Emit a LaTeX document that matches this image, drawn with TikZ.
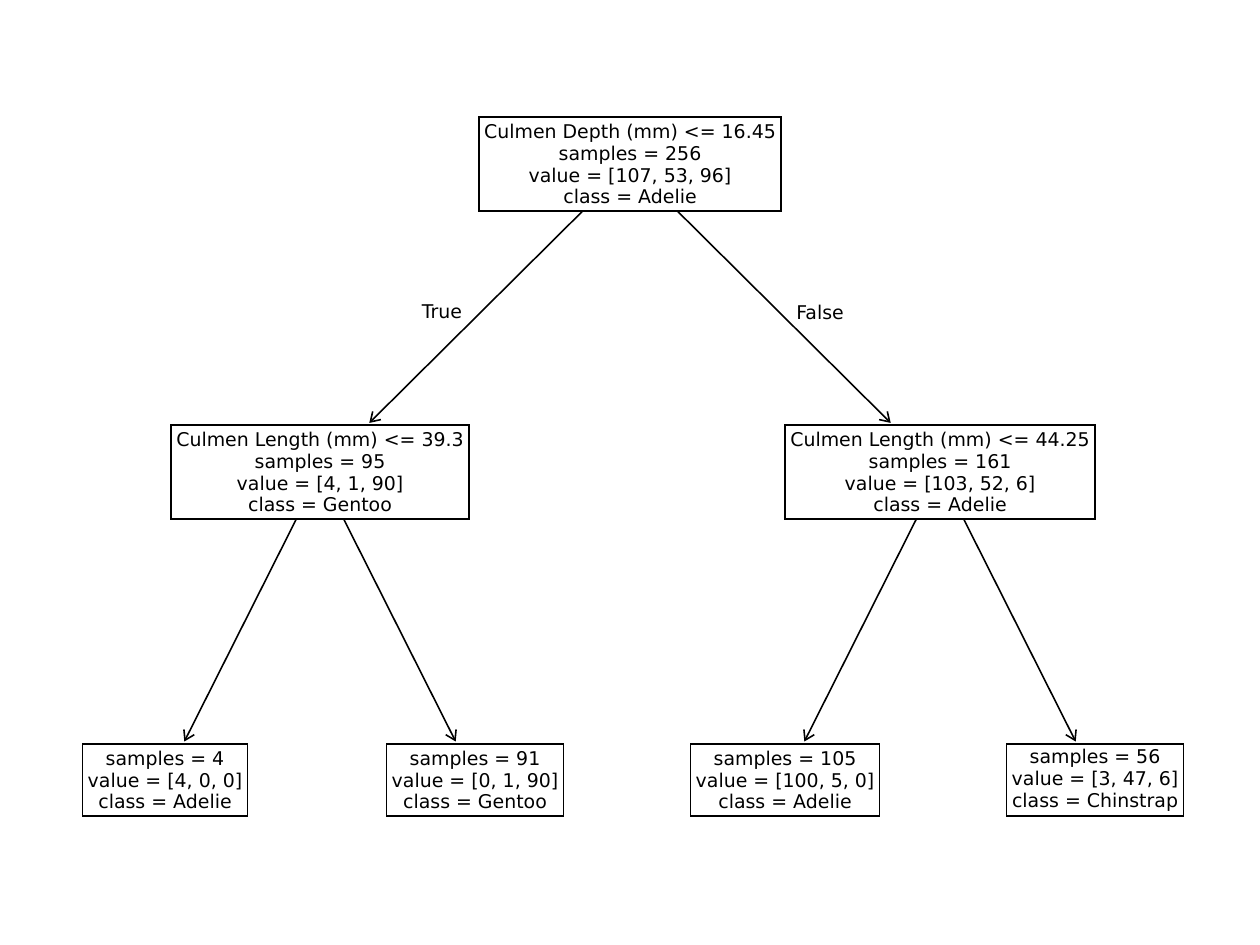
\documentclass[tikz,border=0pt]{standalone}
\usepackage{fontspec}
\setmainfont{DejaVu Sans}
\usetikzlibrary{arrows.meta}
\tikzset{
  treebox/.style={draw, line width=0.85pt, align=center, inner xsep=2.9pt, inner ysep=0pt,
    font=\fontsize{10.77}{12.47}\selectfont},
  inner4/.style={treebox, minimum height=53.3pt},
  leaf3/.style={treebox, minimum height=40.8pt},
  edge/.style={line width=0.9pt, -{Straight Barb[length=5.2pt,width=6.6pt,line width=0.9pt]}, shorten >=1.2pt},
  lbl/.style={font=\fontsize{10.77}{12.47}\selectfont, inner sep=0pt}
}
\begin{document}
\begin{tikzpicture}[x=0.02cm,y=-0.02cm]
\useasboundingbox (0,0) rectangle (1260,944);
\node[inner4] (root) at (630,164) {Culmen Depth (mm) <= 16.45\\samples = 256\\value = [107, 53, 96]\\class = Adelie};
\node[inner4] (l) at (320,472) {Culmen Length (mm) <= 39.3\\samples = 95\\value = [4, 1, 90]\\class = Gentoo};
\node[inner4] (r) at (940,472) {Culmen Length (mm) <= 44.25\\samples = 161\\value = [103, 52, 6]\\class = Adelie};
\node[leaf3] (ll) at (165,780) {samples = 4\\value = [4, 0, 0]\\class = Adelie};
\node[leaf3] (lr) at (475,780) {samples = 91\\value = [0, 1, 90]\\class = Gentoo};
\node[leaf3] (rl) at (785,780) {samples = 105\\value = [100, 5, 0]\\class = Adelie};
\node[leaf3] (rr) at (1095,780) {samples = 56\\value = [3, 47, 6]\\class = Chinstrap};
\draw[edge] (root) -- (l);
\draw[edge] (root) -- (r);
\draw[edge] (l) -- (ll);
\draw[edge] (l) -- (lr);
\draw[edge] (r) -- (rl);
\draw[edge] (r) -- (rr);
\node[lbl] (t) at (442,312) {True};
\node[lbl] (f) at (820,312) {False};
\end{tikzpicture}
\end{document}
